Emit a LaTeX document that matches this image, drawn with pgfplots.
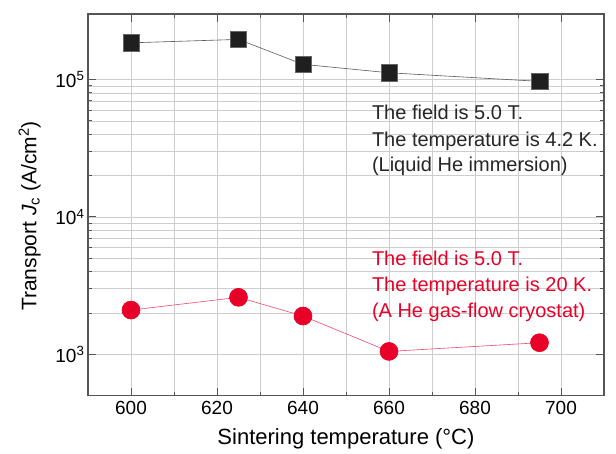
\documentclass[border=0pt]{standalone}
\usepackage{fontspec}
\setmainfont{Liberation Sans}
\usepackage{pgfplots}
\pgfplotsset{compat=1.18}
\definecolor{jcred}{RGB}{232,0,40}
\definecolor{gridgray}{RGB}{205,205,205}
\definecolor{framegray}{RGB}{85,85,85}
\begin{document}
\begin{tikzpicture}
\path (-88pt,-57.3pt) rectangle (528pt,395.7pt);
\begin{axis}[
    at={(0,0)}, anchor=south west,
    scale only axis,
    width=516pt, height=381.7pt,
    xmin=590, xmax=710,
    ymode=log, ymin=500, ymax=300000,
    xtick={600,620,...,700},
    minor xtick={610,630,650,670,690},
    ytick={1000,10000,100000},
    yticklabels={10\textsuperscript{3},10\textsuperscript{4},10\textsuperscript{5}},
    grid=both,
    major grid style={gridgray, line width=0.6pt},
    minor grid style={gridgray, line width=0.6pt},
    axis line style={framegray, line width=1.1pt},
    tick style={framegray, line width=0.9pt},
    tick align=inside,
    major tick length=8pt, minor tick length=4pt,
    tick label style={font=\fontsize{19}{21}\selectfont},
    xticklabel style={yshift=-2pt},
    /pgf/number format/assume math mode=true,
    xlabel={Sintering temperature (°C)},
    ylabel={Transport \textit{J}\textsubscript{c} (A/cm\textsuperscript{2})},
    xlabel style={font=\fontsize{22}{24}\selectfont, at={(axis description cs:0.5,-0.128)}, anchor=base, inner sep=0pt},
    ylabel style={font=\fontsize{21}{23}\selectfont, at={(axis description cs:-0.091,0.471)}, anchor=south, inner sep=0pt},
    clip=false,
]
\addplot[color=black!65, line width=0.6pt, mark=square*, mark size=8.2pt,
    mark options={fill=black!88, draw=black!60, line width=0.4pt}] coordinates {
    (600, 185000)
    (625, 196000)
    (640, 129000)
    (660, 112000)
    (695, 97000)
};
\addplot[color=jcred!70, line width=0.6pt, mark=*, mark size=9pt,
    mark options={fill=jcred, draw=jcred}] coordinates {
    (600, 2100)
    (625, 2600)
    (640, 1900)
    (660, 1050)
    (695, 1215)
};
\begin{scope}[every node/.style={anchor=base west, inner sep=0pt, font=\fontsize{20}{22}\selectfont}]
\node[text=black!85] at (axis cs:656,51170) {The field is 5.0 T.};
\node[text=black!85] at (axis cs:656,32360) {The temperature is 4.2 K.};
\node[text=black!85] at (axis cs:656,21280) {(Liquid He immersion)};
\node[text=jcred] at (axis cs:656,4460) {The field is 5.0 T.};
\node[text=jcred] at (axis cs:656,2853) {The temperature is 20 K.};
\node[text=jcred] at (axis cs:656,1868) {(A He gas-flow cryostat)};
\end{scope}
\end{axis}
\end{tikzpicture}
\end{document}
